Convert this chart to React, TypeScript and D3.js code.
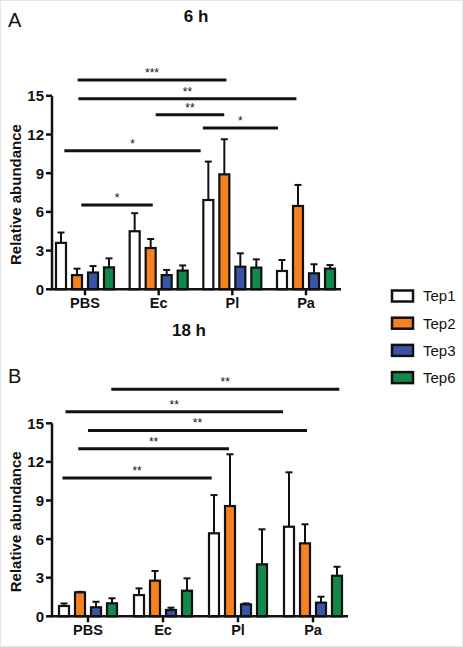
import React from "react";
import * as d3 from "d3";

const groups = ["PBS", "Ec", "Pl", "Pa"];
const series = ["Tep1", "Tep2", "Tep3", "Tep6"];
const colors = ["#ffffff", "#f58220", "#3a55a5", "#12894a"];
const yTicks = [0, 3, 6, 9, 12, 15];

// Panel A (6 h): mean per group per series
const meanA = [
  [3.6, 1.1, 1.3, 1.7],
  [4.5, 3.2, 1.1, 1.45],
  [6.92, 8.91, 1.75, 1.68],
  [1.42, 6.46, 1.24, 1.6],
];
const errTopA = [
  [4.4, 1.6, 1.8, 2.4],
  [5.9, 3.9, 1.5, 1.85],
  [9.9, 11.63, 2.79, 2.32],
  [2.27, 8.09, 1.94, 1.88],
];
// [fromGroupIndex, toGroupIndex, yValue, label]
const sigA: [number, number, number, string][] = [
  [-0.1, 1.92, 16.22, "***"],
  [-0.09, 2.87, 14.78, "**"],
  [0.96, 1.89, 13.53, "**"],
  [1.6, 2.62, 12.5, "*"],
  [-0.28, 1.57, 10.74, "*"],
  [-0.05, 0.92, 6.53, "*"],
];

// Panel B (18 h)
const meanB = [
  [0.8, 1.86, 0.7, 1.01],
  [1.65, 2.77, 0.49, 1.99],
  [6.45, 8.57, 0.93, 4.04],
  [6.96, 5.67, 1.06, 3.15],
];
const errTopB = [
  [1.0, 1.9, 1.13, 1.4],
  [2.17, 3.52, 0.67, 2.95],
  [9.42, 12.59, 1.0, 6.76],
  [11.19, 7.15, 1.52, 3.85],
];
const sigB: [number, number, number, string][] = [
  [0.31, 3.35, 17.64, "**"],
  [-0.3, 2.6, 15.9, "**"],
  [0.0, 2.92, 14.45, "**"],
  [-0.13, 1.88, 13.02, "**"],
  [-0.34, 1.65, 10.75, "**"],
];

const FONT = "'Liberation Sans', Arial, Helvetica, sans-serif";

type PanelProps = {
  title: string;
  letter: string;
  mean: number[][];
  errTop: number[][];
  sig: [number, number, number, string][];
  y0: number;
  y15: number;
  gx0: number;
  gx3: number;
  axisEnd: number;
  titleX: number;
  titleY: number;
  letterY: number;
};

function Panel(p: PanelProps) {
  const y = d3.scaleLinear().domain([0, 15]).range([p.y0, p.y15]);
  const gx = d3.scaleLinear().domain([0, 3]).range([p.gx0, p.gx3]);
  const barStep = 16;
  const barW = 10;
  const axisX = 52;
  return (
    <g>
      <text x={8} y={p.letterY} fontFamily={FONT} fontSize={20} fill="#111">
        {p.letter}
      </text>
      <text
        x={p.titleX}
        y={p.titleY}
        textAnchor="middle"
        fontFamily={FONT}
        fontWeight="bold"
        fontSize={17}
        fill="#111"
      >
        {p.title}
      </text>
      {/* bars */}
      {groups.map((g, i) =>
        series.map((s, j) => {
          const cx = gx(i) + (j - 1.5) * barStep;
          const v = p.mean[i][j];
          const e = p.errTop[i][j];
          return (
            <g key={g + s}>
              <line x1={cx} x2={cx} y1={y(v)} y2={y(e)} stroke="#111" strokeWidth={2} />
              <line x1={cx - 3.5} x2={cx + 3.5} y1={y(e)} y2={y(e)} stroke="#111" strokeWidth={2} />
              <rect
                x={cx - barW / 2}
                y={y(v)}
                width={barW}
                height={y(0) - y(v)}
                fill={colors[j]}
                stroke="#111"
                strokeWidth={2.2}
              />
            </g>
          );
        })
      )}
      {/* y axis */}
      <line x1={axisX} x2={axisX} y1={y(0)} y2={y(15)} stroke="#111" strokeWidth={2.5} />
      {yTicks.map((t) => (
        <g key={t}>
          <line x1={axisX - 6} x2={axisX} y1={y(t)} y2={y(t)} stroke="#111" strokeWidth={2.5} />
          <text
            x={axisX - 8}
            y={y(t)}
            dy="0.36em"
            textAnchor="end"
            fontFamily={FONT}
            fontWeight="bold"
            fontSize={15}
            fill="#111"
          >
            {t}
          </text>
        </g>
      ))}
      {/* x axis */}
      <line x1={axisX - 1} x2={p.axisEnd} y1={y(0)} y2={y(0)} stroke="#111" strokeWidth={2.5} />
      {groups.map((g, i) => (
        <g key={g}>
          <line x1={gx(i)} x2={gx(i)} y1={y(0)} y2={y(0) + 6} stroke="#111" strokeWidth={2.5} />
          <text
            x={gx(i)}
            y={y(0) + 19}
            textAnchor="middle"
            fontFamily={FONT}
            fontWeight="bold"
            fontSize={14.5}
            fill="#111"
          >
            {g}
          </text>
        </g>
      ))}
      <text
        transform={`translate(21,${(y(0) + y(15)) / 2 + 2}) rotate(-90)`}
        textAnchor="middle"
        fontFamily={FONT}
        fontWeight="bold"
        fontSize={15}
        fill="#111"
      >
        Relative abundance
      </text>
      {/* significance */}
      {p.sig.map(([a, b, v, lab], k) => (
        <g key={k}>
          <line x1={gx(a)} x2={gx(b)} y1={y(v)} y2={y(v)} stroke="#111" strokeWidth={3} />
          <text
            x={(gx(a) + gx(b)) / 2}
            y={y(v) - 3}
            textAnchor="middle"
            fontFamily={FONT}
            fontSize={12}
            fill="#111"
          >
            {lab}
          </text>
        </g>
      ))}
    </g>
  );
}

export default function App() {
  return (
    <svg
      width={463}
      height={647}
      style={{ position: "absolute", left: 0, top: 0, background: "#fff" }}
    >
      <rect x={0.5} y={0.5} width={462} height={646} fill="#fff" stroke="#e6e6e6" />
      <Panel
        title="6 h"
        letter="A"
        mean={meanA}
        errTop={errTopA}
        sig={sigA}
        y0={289.3}
        y15={95.8}
        gx0={85}
        gx3={306}
        axisEnd={341}
        titleX={196}
        titleY={22}
        letterY={27}
      />
      <Panel
        title="18 h"
        letter="B"
        mean={meanB}
        errTop={errTopB}
        sig={sigB}
        y0={616.3}
        y15={423.3}
        gx0={88}
        gx3={313}
        axisEnd={348}
        titleX={189}
        titleY={336}
        letterY={383}
      />
      {/* legend */}
      {series.map((s, j) => (
        <g key={s} transform={`translate(392,${296 + j * 27.2})`}>
          <rect x={0} y={-5.5} width={21} height={11} fill={colors[j]} stroke="#111" strokeWidth={2.5} />
          <text x={31} y={0} dy="0.36em" fontFamily={FONT} fontSize={15} fill="#111">
            {s}
          </text>
        </g>
      ))}
    </svg>
  );
}
